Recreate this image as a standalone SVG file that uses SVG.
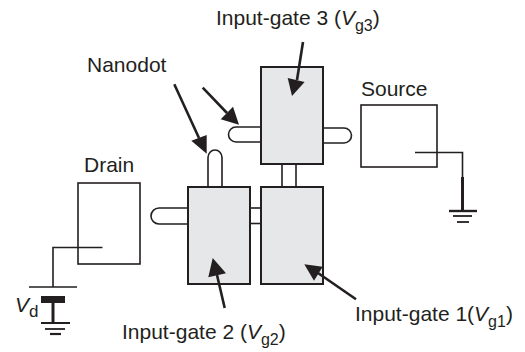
<svg xmlns="http://www.w3.org/2000/svg" width="525" height="352" viewBox="0 0 525 352">
<style>
text{font-family:"Liberation Sans",Arial,sans-serif;font-size:21px;fill:#231f20}
.sub{font-size:16px}
.i{font-style:italic}
.gate{fill:#e6e7e8;stroke:#231f20;stroke-width:2}
.box{fill:#fff;stroke:#231f20;stroke-width:1.6}
.tube{fill:#fff;stroke:#231f20;stroke-width:1.6}
.wire{fill:none;stroke:#231f20;stroke-width:1.6}
.shaft{fill:none;stroke:#231f20;stroke-width:2.6}
.head{fill:#231f20}
</style>
<rect width="525" height="352" fill="#fff"/>
<g id="dots">
<path class="tube" d="M261 127H236a7.500 7.500 0 0 0 0 15H261"/>
<path class="tube" d="M323 128H344a7.500 7.500 0 0 1 0 15H323"/>
<path class="tube" d="M208 187V157.500a7 7.500 0 0 1 14 0V187"/>
<path class="tube" d="M188 208H159a8 8 0 0 0 0 16H188"/>
<rect class="tube" x="250" y="208" width="11" height="15.500"/>
<rect class="tube" x="282" y="164" width="14" height="23"/>
</g>
<g id="gate3"><rect class="gate" x="261" y="67" width="62" height="97"/></g>
<g id="gate2"><rect class="gate" x="188" y="187" width="62" height="97"/></g>
<g id="gate1"><rect class="gate" x="261" y="187" width="62" height="97"/></g>
<g id="source"><rect class="box" x="361" y="105" width="76" height="62"/>
<text x="361" y="96">Source</text></g>
<g id="drain"><rect class="box" x="78" y="183" width="62" height="81"/>
<text x="84" y="172">Drain</text></g>
<g id="connectors">
<path class="wire" d="M415 152.500H462.500V177"/>
<path d="M462.500 177V211" fill="none" stroke="#231f20" stroke-width="3"/>
<path d="M449 211H477" fill="none" stroke="#231f20" stroke-width="2.400"/>
<path d="M453 216H472" fill="none" stroke="#231f20" stroke-width="1.800"/>
<path d="M457 222H469" fill="none" stroke="#231f20" stroke-width="1.800"/>
<path class="wire" d="M102.500 247.500H53V287M29 287H77"/>
<rect x="41" y="296" width="24" height="7" fill="#231f20"/>
<path d="M53 303V323" fill="none" stroke="#231f20" stroke-width="3"/>
<path d="M41 323H70" fill="none" stroke="#231f20" stroke-width="2"/>
<path d="M45 329H65" fill="none" stroke="#231f20" stroke-width="1.800"/>
<path d="M50 334H61" fill="none" stroke="#231f20" stroke-width="2.200"/>
<path class="shaft" d="M303 42L297 80"/>
<polygon class="head" points="292,96 287.700,78 304.600,82"/>
<path class="shaft" d="M202.700 87.700L227 113"/>
<polygon class="head" points="239,124.700 220.700,119.300 233,106.700"/>
<path class="shaft" d="M174.300 84.300L199 138"/>
<polygon class="head" points="206.700,153.700 191.300,140.700 206.700,135"/>
<path class="shaft" d="M224.700 308L217 275"/>
<polygon class="head" points="212.700,258 208.300,277.300 226,273.300"/>
<path class="shaft" d="M356 299.300L318 273"/>
<polygon class="head" points="304.300,264.300 314,280.700 322.700,266.700"/>
</g>
<g id="labels">
<text x="216" y="25">Input-gate 3 (<tspan class="i">V</tspan><tspan class="sub" dy="6">g3</tspan><tspan dy="-6">)</tspan></text>
<text x="87" y="72">Nanodot</text>
<text x="122" y="339">Input-gate 2 (<tspan class="i">V</tspan><tspan class="sub" dy="6">g2</tspan><tspan dy="-6">)</tspan></text>
<text x="355" y="321">Input-gate 1(<tspan class="i">V</tspan><tspan class="sub" dy="6">g1</tspan><tspan dy="-6">)</tspan></text>
<text x="15" y="312"><tspan class="i">V</tspan><tspan dy="5" font-size="17">d</tspan></text>
</g>
</svg>
